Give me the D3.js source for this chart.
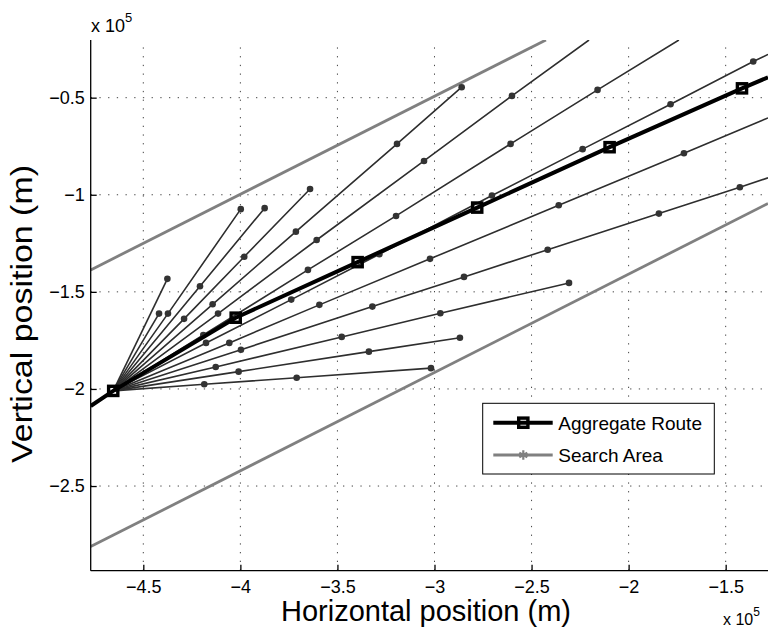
<html>
<head>
<meta charset="utf-8">
<script src="https://d3js.org/d3.v7.min.js"></script>
<style>
  body { margin: 0; background: #fff; }
  svg text { font-family: "Liberation Sans", Arial, sans-serif; }
</style>
</head>
<body>
<svg width="768" height="628"></svg>
<script>
// values in units of 1e5 m
var origin = [-4.655, -2.010];

// dots along each trial route, from steepest to flattest
var rayDots = [
  [[-4.376, -1.433]],
  [[-4.419, -1.612]],
  [[-4.373, -1.612], [-3.998, -1.074]],
  [[-4.208, -1.471], [-3.875, -1.069]],
  [[-4.290, -1.639], [-3.980, -1.319], [-3.641, -0.970]],
  [[-4.143, -1.564], [-3.714, -1.190], [-3.193, -0.738], [-2.860, -0.446]],
  [[-4.115, -1.612], [-3.607, -1.233], [-3.054, -0.826], [-2.601, -0.491]],
  [[-4.191, -1.722], [-3.652, -1.387], [-3.198, -1.109], [-2.608, -0.738], [-2.160, -0.460]],
  [[-4.177, -1.763], [-3.738, -1.540], [-3.284, -1.306], [-2.704, -1.004], [-2.237, -0.765], [-1.784, -0.534], [-1.358, -0.314]],
  [[-4.057, -1.763], [-3.593, -1.567], [-3.023, -1.330], [-2.360, -1.054], [-1.715, -0.786]],
  [[-3.997, -1.798], [-3.320, -1.576], [-2.848, -1.423], [-2.417, -1.283], [-1.844, -1.097], [-1.427, -0.961]],
  [[-4.127, -1.887], [-3.478, -1.732], [-2.970, -1.610], [-2.307, -1.454]],
  [[-4.009, -1.911], [-3.338, -1.808], [-2.869, -1.736]],
  [[-4.186, -1.976], [-3.710, -1.942], [-3.018, -1.893]]
];
// where a route leaves the axes (no marker), null if it ends inside
var rayTails = [null, null, null, null, null, null,
  [-2.204, -0.203], [-1.741, -0.203], [-1.282, -0.277], [-1.282, -0.604], [-1.282, -0.913],
  null, null, null];

var routeX = [-4.655, -4.024, -3.396, -2.780, -2.098, -1.416];
var routeY = [-2.010, -1.633, -1.347, -1.066, -0.755, -0.452];
var routeEnds = [[-4.771, -2.088], [-1.282, -0.395]];

var searchUpper = [[-4.771, -1.387], [-2.426, -0.203]];
var searchLower = [[-4.771, -2.812], [-1.282, -1.045]];

var xTicks = [-4.5, -4, -3.5, -3, -2.5, -2, -1.5];
var yTicks = [-2.5, -2, -1.5, -1, -0.5];
var legendLabels = ['Aggregate Route', 'Search Area'];

//-----------------------------------------------------------------------
var pLeft = 90.7, pRight = 768, pTop = 40, pBottom = 570.7;
var x = d3.scaleLinear().domain([-4.771, -1.282]).range([pLeft, pRight]);
var y = d3.scaleLinear().domain([-2.936, -0.203]).range([pBottom, pTop]);
var fmt = function(d) { return String(d).replace('-', '\u2212'); };

var svg = d3.select('svg');
svg.append('defs').append('clipPath').attr('id', 'plot')
  .append('rect').attr('x', pLeft).attr('y', pTop)
  .attr('width', pRight - pLeft).attr('height', pBottom - pTop);

// grid
var grid = svg.append('g').attr('stroke', '#444').attr('stroke-width', 1)
  .attr('stroke-dasharray', '1.3,7.4');
grid.selectAll('.gx').data(xTicks).enter().append('line')
  .attr('x1', function(d) { return x(d); }).attr('x2', function(d) { return x(d); })
  .attr('y1', pBottom).attr('y2', pTop);
grid.selectAll('.gy').data(yTicks).enter().append('line')
  .attr('y1', function(d) { return y(d); }).attr('y2', function(d) { return y(d); })
  .attr('x1', pLeft).attr('x2', pRight);

var plot = svg.append('g').attr('clip-path', 'url(#plot)');
var line = d3.line().x(function(d) { return x(d[0]); }).y(function(d) { return y(d[1]); });

// search area
plot.selectAll('.search').data([searchUpper, searchLower]).enter().append('path')
  .attr('d', line).attr('fill', 'none').attr('stroke', '#808080').attr('stroke-width', 2.8);

// trial routes
rayDots.forEach(function(dots, i) {
  var pts = [origin].concat(dots);
  if (rayTails[i]) pts.push(rayTails[i]);
  plot.append('path').attr('d', line(pts))
    .attr('fill', 'none').attr('stroke', '#2e2e2e').attr('stroke-width', 1.6);
  plot.selectAll(null).data(dots).enter().append('circle')
    .attr('cx', function(d) { return x(d[0]); }).attr('cy', function(d) { return y(d[1]); })
    .attr('r', 3.3).attr('fill', '#333');
});

// aggregate route
var route = routeX.map(function(v, i) { return [v, routeY[i]]; });
plot.append('path').attr('d', line([routeEnds[0]].concat(route, [routeEnds[1]])))
  .attr('fill', 'none').attr('stroke', '#000').attr('stroke-width', 4);
plot.selectAll('.sq').data(route).enter().append('rect')
  .attr('x', function(d) { return x(d[0]) - 4.6; }).attr('y', function(d) { return y(d[1]) - 4.6; })
  .attr('width', 9.2).attr('height', 9.2)
  .attr('fill', 'none').attr('stroke', '#000').attr('stroke-width', 3.4);

// axes
var xAxis = d3.axisBottom(x).tickValues(xTicks).tickFormat(fmt).tickSize(-6).tickPadding(9.5);
var yAxis = d3.axisLeft(y).tickValues(yTicks).tickFormat(fmt).tickSize(-6).tickPadding(6);
var gx = svg.append('g').attr('transform', 'translate(0,' + pBottom + ')').call(xAxis);
var gy = svg.append('g').attr('transform', 'translate(' + pLeft + ',0)').call(yAxis);
[gx, gy].forEach(function(g) {
  g.select('.domain').attr('stroke', '#000').attr('stroke-width', 1.3);
  g.selectAll('.tick line').attr('stroke', '#000').attr('stroke-width', 1.3);
  g.selectAll('.tick text').attr('font-size', 18).attr('fill', '#000')
    .style('font-family', '"Liberation Sans", Arial, sans-serif');
});
gx.select('.domain').attr('d', 'M' + pLeft + ',0H' + pRight);
gy.select('.domain').attr('d', 'M0,' + pBottom + 'V' + pTop);

// exponent labels
var e1 = svg.append('text').attr('x', 91).attr('y', 31.5).attr('font-size', 18);
e1.append('tspan').text('x 10');
e1.append('tspan').attr('font-size', 13).attr('dy', -10).text('5');
var e2 = svg.append('text').attr('x', 723).attr('y', 625).attr('font-size', 16);
e2.append('tspan').text('x 10');
e2.append('tspan').attr('font-size', 12).attr('dy', -9).text('5');

// axis titles
svg.append('text').attr('x', 426).attr('y', 621).attr('text-anchor', 'middle')
  .attr('font-size', 29).attr('textLength', 290).attr('lengthAdjust', 'spacingAndGlyphs')
  .text('Horizontal position (m)');
svg.append('text').attr('transform', 'translate(32,314) rotate(-90)').attr('text-anchor', 'middle')
  .attr('font-size', 29).attr('textLength', 298).attr('lengthAdjust', 'spacingAndGlyphs')
  .text('Vertical position (m)');

// legend
var lg = svg.append('g');
lg.append('rect').attr('x', 482.7).attr('y', 403.3).attr('width', 231.6).attr('height', 70.7)
  .attr('fill', '#fff').attr('stroke', '#000').attr('stroke-width', 1);
lg.append('line').attr('x1', 493.3).attr('x2', 552.7).attr('y1', 422.7).attr('y2', 422.7)
  .attr('stroke', '#000').attr('stroke-width', 4);
lg.append('rect').attr('x', 518.7).attr('y', 418.1).attr('width', 9.2).attr('height', 9.2)
  .attr('fill', 'none').attr('stroke', '#000').attr('stroke-width', 3.4);
lg.append('line').attr('x1', 493.3).attr('x2', 552.7).attr('y1', 455).attr('y2', 455)
  .attr('stroke', '#808080').attr('stroke-width', 2.8);
lg.append('path').attr('d', d3.symbol(d3.symbolAsterisk, 60)())
  .attr('transform', 'translate(523.3,455)').attr('stroke', '#808080').attr('stroke-width', 2.2);
lg.selectAll('.lt').data(legendLabels).enter().append('text')
  .attr('x', 558.3).attr('y', function(d, i) { return 429.5 + i * 32.3; })
  .attr('font-size', 19).text(function(d) { return d; });
</script>
</body>
</html>
